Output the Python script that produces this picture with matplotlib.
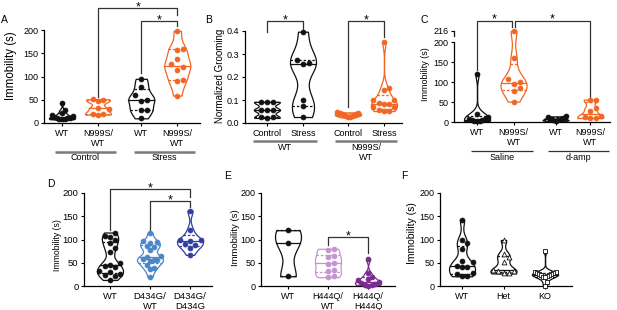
import numpy as np
import matplotlib
matplotlib.use('Agg')
import matplotlib.pyplot as plt

plt.rcParams['font.family'] = ['Liberation Sans', 'DejaVu Sans']

W, H = 617, 310

# colours
black = '#111111'
orange = '#f26522'
blue = '#4a86c8'
navy = '#2f3f9e'
pink = '#c592d2'
purple = '#7b2a8e'

# ---- data ----
# A: forced swim immobility (s)
a_labels = ['WT', 'N999S/\nWT', 'WT', 'N999S/\nWT']
a_groups = ['Control', 'Stress']
a_ctrl_wt = [44, 28, 22, 18, 15, 12, 11, 10, 10, 9, 8, 8]
a_ctrl_mut = [51, 49, 47, 33, 30, 20, 19, 18]
a_stress_wt = [95, 77, 60, 50, 48, 29, 28, 10]
a_stress_mut = [198, 160, 158, 138, 126, 120, 115, 92, 90, 59]

# B: normalized grooming
b_labels = ['Control', 'Stress', 'Control', 'Stress']
b_groups = ['WT', 'N999S/\nWT']
b_wt_ctrl = [0.092, 0.090, 0.090, 0.058, 0.057, 0.056, 0.026, 0.024, 0.022]
b_wt_stress = [0.397, 0.273, 0.260, 0.258, 0.100, 0.073, 0.026]
b_mut_ctrl = [0.046, 0.044, 0.042, 0.040, 0.038, 0.036, 0.034, 0.032, 0.030, 0.027, 0.024]
b_mut_stress = [0.353, 0.154, 0.143, 0.102, 0.100, 0.086, 0.084, 0.082, 0.070, 0.068, 0.056, 0.054, 0.052]

# C: immobility, saline vs d-amp
c_labels = ['WT', 'N999S/\nWT', 'WT', 'N999S/\nWT']
c_groups = ['Saline', 'd-amp']
c_sal_wt = [120, 20, 12, 8, 7, 5, 4, 3, 3, 2]
c_sal_mut = [216, 159, 108, 100, 94, 84, 78, 51]
c_amp_wt = [14, 12, 10, 8, 7, 5, 4, 3]
c_amp_mut = [56, 55, 36, 28, 14, 12, 11, 10]

# D
d_labels = ['WT', 'D434G/\nWT', 'D434G/\nD434G']
d_wt = [115, 108, 106, 99, 92, 82, 74, 50, 46, 42, 40, 32, 30, 25, 24, 22, 13]
d_het = [115, 96, 94, 92, 86, 84, 77, 64, 62, 57, 56, 55, 54, 46, 39, 37, 20]
d_hom = [162, 120, 100, 99, 97, 90, 89, 81, 67]

# E
e_labels = ['WT', 'H444Q/\nWT', 'H444Q/\nH444Q']
e_wt = [120, 92, 21]
e_het = [80, 78, 64, 62, 50, 48, 35, 33, 21, 19]
e_hom = [58, 28, 20, 15, 12, 9, 6, 5, 3, 2, 1]

# F
f_labels = ['WT', 'Het', 'KO']
f_wt = [142, 100, 92, 80, 53, 51, 43, 41, 40, 27, 25, 22, 21]
f_het = [99, 68, 63, 52, 34, 33, 32, 28, 27]
f_ko = [76, 31, 30, 28, 27, 26, 25, 24, 23, 22, 20, 19, 9, 1]

fig = plt.figure(figsize=(W / 100, H / 100), dpi=100)


def add_axes_px(left, right, y0, ytop):
    ax = fig.add_axes([left / W, 1 - y0 / H, (right - left) / W, (y0 - ytop) / H])
    ax.px = (left, right, y0, ytop)
    return ax


def swarm(vals, ux, uy, d=6.0, maxoff=10.5):
    # simple beeswarm in pixel space, squeezed to stay inside the violin
    v = np.asarray(vals, float)
    offs = np.zeros(len(v))
    placed = []
    for i in np.argsort(v):
        y = v[i] * uy
        k = 0
        while True:
            off = ((k + 1) // 2) * d * (1 if k % 2 else -1)
            if all((off - px) ** 2 + (y - py) ** 2 >= d * d for px, py in placed):
                break
            k += 1
        placed.append((off, y))
        offs[i] = off
    m = np.abs(offs).max()
    if m > maxoff:
        offs = offs * maxoff / m
    return offs / ux


def violin(ax, pos, vals, color, marker='o', face=None, bw=0.6, wpx=26):
    left, right, y0, ytop = ax.px
    x0, x1 = ax.get_xlim()
    yb, yt = ax.get_ylim()
    ux = (right - left) / (x1 - x0)
    uy = (y0 - ytop) / (yt - yb)
    v = np.asarray(vals, float)
    h = v.std(ddof=1) * len(v) ** -0.2 * bw
    ys = np.linspace(v.min(), v.max(), 300)
    dens = np.exp(-0.5 * ((ys[:, None] - v[None, :]) / h) ** 2).sum(axis=1)
    half = dens / dens.max() * wpx / 2 / ux
    ax.fill_betweenx(ys, pos - half, pos + half, facecolor='white', edgecolor=color,
                     lw=0.9, zorder=2, clip_on=False)
    q1, q2, q3 = np.percentile(v, [25, 50, 75], method='weibull')
    for q, ls in ((q1, (0, (2, 1.5))), (q2, '-'), (q3, (0, (2, 1.5)))):
        hw = np.interp(q, ys, half)
        ax.plot([pos - hw, pos + hw], [q, q], color=color, lw=0.9, ls=ls, zorder=3, clip_on=False)
    xs = swarm(v, ux, uy)
    ax.scatter(pos + xs, v, s=12, marker=marker, c=face or color, edgecolors=color,
               linewidths=0.6, zorder=4, clip_on=False)


def style(ax, positions, labels, xlim, ylim, yticks, yticklabels=None, fs=6.5):
    ax.set_xlim(xlim)
    ax.set_ylim(ylim)
    for s in ('top', 'right'):
        ax.spines[s].set_visible(False)
    for s in ('left', 'bottom'):
        ax.spines[s].set_linewidth(0.9)
    ax.set_xticks(positions)
    ax.set_xticklabels(labels, fontsize=fs, linespacing=1.15)
    ax.set_yticks(yticks)
    if yticklabels is not None:
        ax.set_yticklabels(yticklabels)
    ax.tick_params(length=2.5, width=0.8, pad=1.5, labelsize=fs)
    ax.patch.set_visible(False)


def yfrac(ax, ypx):
    left, right, y0, ytop = ax.px
    return (y0 - ypx) / (y0 - ytop)


def group_bar(ax, x1, x2, label, ypx, lw=1.8, color='#7a7a7a'):
    tr = ax.get_xaxis_transform()
    yf = yfrac(ax, ypx)
    ax.plot([x1, x2], [yf, yf], transform=tr, color=color, lw=lw, clip_on=False,
            solid_capstyle='butt')
    ax.text((x1 + x2) / 2, yfrac(ax, ypx + 1.5), label, transform=tr, ha='center',
            va='top', fontsize=6.5, linespacing=1.15)


def bracket(ax, x1, x2, y, l1, l2):
    ax.plot([x1, x1, x2, x2], [l1, y, y, l2], color='#333333', lw=0.9, clip_on=False)
    ax.annotate('*', xy=((x1 + x2) / 2, y), xytext=(0, -1.5), textcoords='offset points',
                ha='center', va='baseline', fontsize=9, annotation_clip=False)


def panel_text(xpx, ypx, s, fs=7.5):
    fig.text(xpx / W, 1 - ypx / H, s, ha='center', va='center', fontsize=fs)


def ylabel(xpx, ypx, s, fs):
    fig.text(xpx / W, 1 - ypx / H, s, ha='center', va='center', rotation=90, fontsize=fs)


# ---- A ----
ax = add_axes_px(44, 200, 123, 30)
pos = [0, 1, 2.2, 3.2]
style(ax, pos, a_labels, (-0.5, 3.83), (0, 200), [0, 50, 100, 150, 200])
for p, d, c in zip(pos, [a_ctrl_wt, a_ctrl_mut, a_stress_wt, a_stress_mut],
                   [black, orange, black, orange]):
    violin(ax, p, d, c)
group_bar(ax, pos[0] - 0.2, pos[1] + 0.5, a_groups[0], 152)
group_bar(ax, pos[2] - 0.2, pos[3] + 0.5, a_groups[1], 152)
bracket(ax, pos[1], pos[3], 247, 56, 232)
bracket(ax, pos[2], pos[3], 219, 107, 209)
panel_text(4, 20, 'A')
ylabel(11, 66, 'Immobility (s)', 8.3)

# ---- B ----
ax = add_axes_px(245, 402, 123, 31)
pos = [0, 1, 2.25, 3.25]
style(ax, pos, b_labels, (-0.61, 3.75), (0, 0.4), [0, 0.1, 0.2, 0.3, 0.4],
      ['0.0', '0.1', '0.2', '0.3', '0.4'])
for p, d, c in zip(pos, [b_wt_ctrl, b_wt_stress, b_mut_ctrl, b_mut_stress],
                   [black, black, orange, orange]):
    violin(ax, p, d, c)
group_bar(ax, pos[0] - 0.39, pos[1] + 0.39, b_groups[0], 141)
group_bar(ax, pos[2] - 0.36, pos[3] + 0.36, b_groups[1], 141)
bracket(ax, pos[0], pos[1], 0.443, 0.397, 0.41)
bracket(ax, pos[2], pos[3], 0.443, 0.07, 0.375)
panel_text(209, 20, 'B')
ylabel(220, 76, 'Normalized Grooming', 7)

# ---- C (axis break above 200) ----
gap = 11.5
ax = add_axes_px(454, 610, 122, 31)
pos = [0, 1, 2.15, 3.1]
style(ax, pos, c_labels, (-0.63, 3.64), (0, 216 + gap), [0, 50, 100, 150, 200, 216 + gap],
      ['0', '50', '100', '150', '200', '216'])
ax.spines['left'].set_bounds(0, 200)
ax.plot([0, 0], [200 + gap + 3, 216 + gap], transform=ax.get_yaxis_transform(),
        color=black, lw=0.9, clip_on=False)
for p, d, c in zip(pos, [c_sal_wt, c_sal_mut, c_amp_wt, c_amp_mut],
                   [black, orange, black, orange]):
    d = np.asarray(d, float)
    violin(ax, p, np.where(d > 200, d + gap, d), c)
group_bar(ax, pos[0] - 0.17, pos[1] + 0.52, c_groups[0], 151, lw=0.9, color='#333333')
group_bar(ax, pos[2] - 0.22, pos[3] + 0.52, c_groups[1], 151, lw=0.9, color='#333333')
bracket(ax, pos[0], pos[1] - 0.04, 253, 130, 238)
bracket(ax, pos[1] + 0.04, pos[3], 253, 238, 63)
panel_text(424, 20, 'C')
ylabel(425, 74, 'Immobility (s)', 6.5)

# ---- D ----
ax = add_axes_px(84, 212, 286, 193)
pos = [0, 1, 2]
style(ax, pos, d_labels, (-0.65, 2.55), (0, 200), [0, 50, 100, 150, 200], fs=6.8)
for p, d, c in zip(pos, [d_wt, d_het, d_hom], [black, blue, navy]):
    violin(ax, p, d, c)
bracket(ax, pos[0], pos[2], 208, 120, 192)
bracket(ax, pos[1], pos[2], 183, 120, 169)
panel_text(51, 184, 'D')
ylabel(57, 245, 'Immobility (s)', 6.2)

# ---- E ----
ax = add_axes_px(261, 395, 286, 193)
style(ax, pos, e_labels, (-0.675, 2.675), (0, 200), [0, 50, 100, 150, 200])
for p, d, c in zip(pos, [e_wt, e_het, e_hom], [black, pink, purple]):
    violin(ax, p, d, c)
bracket(ax, pos[1], pos[2], 105, 88, 71)
panel_text(228, 176, 'E')
ylabel(235, 238, 'Immobility (s)', 6.8)

# ---- F ----
ax = add_axes_px(440, 572, 286, 193)
style(ax, pos, f_labels, (-0.53, 2.65), (0, 200), [0, 50, 100, 150, 200])
violin(ax, pos[0], f_wt, black)
violin(ax, pos[1], f_het, black, marker='^', face='white')
violin(ax, pos[2], f_ko, black, marker='s', face='white')
panel_text(404, 176, 'F')
ylabel(412, 233, 'Immobility (s)', 7.5)

fig.savefig('out.png', dpi=100)
